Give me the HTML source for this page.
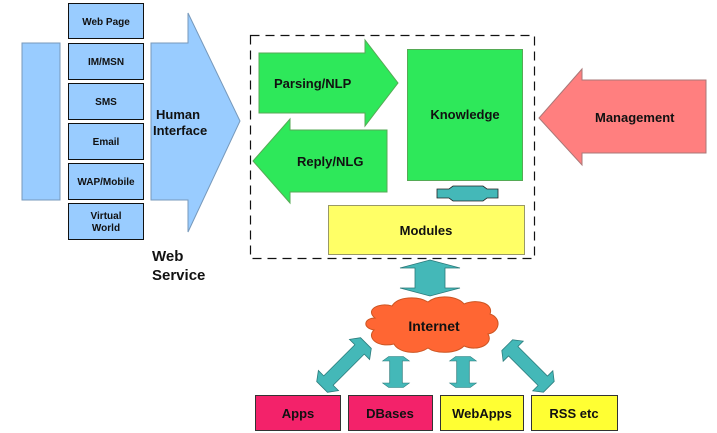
<!DOCTYPE html>
<html><head><meta charset="utf-8"><style>
html,body{margin:0;padding:0;background:#fff;}
svg{display:block;}
text{font-family:"Liberation Sans",Arial,sans-serif;font-weight:bold;fill:#111;}
</style></head><body>
<svg width="717" height="433" viewBox="0 0 717 433" xmlns="http://www.w3.org/2000/svg">
<defs>
<polygon id="dv" points="-8,-31 8,-31 15,-22 7,-22 7,22 15,22 8,31 -8,31 -15,22 -7,22 -7,-22 -15,-22" fill="#44b8b8" stroke="#2a7a7a" stroke-width="0.8"/>
</defs>
<!-- left bar -->
<rect x="22" y="43" width="38" height="157" fill="#99ccff" stroke="#7799bb" stroke-width="1"/>
<!-- big human interface arrow -->
<polygon points="151,43 188,43 188,13 240,121 188,232 188,200 151,200" fill="#99ccff" stroke="#7799bb" stroke-width="1"/>
<text x="156" y="119" font-size="13">Human</text>
<text x="153" y="135" font-size="13">Interface</text>
<!-- column boxes -->
<g fill="#99ccff" stroke="#111" stroke-width="1">
<rect x="68.5" y="3.5" width="75" height="35"/>
<rect x="68.5" y="43.5" width="75" height="36"/>
<rect x="68.5" y="83.5" width="75" height="36"/>
<rect x="68.5" y="123.5" width="75" height="36"/>
<rect x="68.5" y="163.5" width="75" height="36"/>
<rect x="68.5" y="203.5" width="75" height="36"/>
</g>
<g font-size="10" text-anchor="middle">
<text x="106" y="25">Web Page</text>
<text x="106" y="65">IM/MSN</text>
<text x="106" y="105">SMS</text>
<text x="106" y="145">Email</text>
<text x="106" y="185">WAP/Mobile</text>
<text x="106" y="219">Virtual</text>
<text x="106" y="231">World</text>
</g>
<text x="152" y="261" font-size="15">Web</text>
<text x="152" y="280" font-size="15">Service</text>
<!-- dashed box -->
<rect x="250.5" y="35.5" width="284" height="223" fill="none" stroke="#111" stroke-width="1.2" stroke-dasharray="9,6"/>
<!-- parsing -->
<polygon points="259,53 365,53 365,40 398,83 365,126 365,113 259,113" fill="#2ee85a" stroke="#55aa55" stroke-width="1"/>
<text x="274" y="88" font-size="13">Parsing/NLP</text>
<!-- reply -->
<polygon points="387,130 290,130 290,119 253,161 290,203 290,192 387,192" fill="#2ee85a" stroke="#55aa55" stroke-width="1"/>
<text x="297" y="166" font-size="13">Reply/NLG</text>
<!-- knowledge -->
<rect x="407.5" y="49.5" width="115" height="131" fill="#2ee85a" stroke="#55aa55" stroke-width="1"/>
<text x="465" y="119" font-size="13" text-anchor="middle">Knowledge</text>
<!-- small connector -->
<polygon points="453,186 483,186 487,189 498,189 498,198 487,198 483,201 453,201 449,198 437,198 437,189 449,189" fill="#44b8b8" stroke="#222" stroke-width="0.8"/>
<!-- modules -->
<rect x="328.5" y="205.5" width="196" height="49" fill="#ffff66" stroke="#999966" stroke-width="1"/>
<text x="426" y="235" font-size="13" text-anchor="middle">Modules</text>
<!-- management -->
<polygon points="706,80 582,80 582,69 539,118 582,165 582,153 706,153" fill="#ff7f7f" stroke="#aa7777" stroke-width="1"/>
<text x="595" y="122" font-size="13">Management</text>
<!-- big teal double arrow -->
<polygon points="430,260 460,268 445,268 445,288 460,288 430,296 400,288 415,288 415,268 400,268" fill="#44b8b8" stroke="#2a7a7a" stroke-width="0.8"/>
<!-- cloud -->
<path d="M375,318 C365,310 378,302 392,306 C398,296 418,296 428,302 C438,294 458,296 464,304 C478,298 494,304 490,314 C502,318 500,332 488,334 C494,344 478,352 464,346 C456,354 436,354 428,348 C416,356 398,352 394,344 C378,348 366,338 374,330 C362,328 364,318 375,318 Z" fill="#ff6633" stroke="#cc5522" stroke-width="1"/>
<text x="434" y="331" font-size="14" text-anchor="middle">Internet</text>
<!-- small arrows -->
<use href="#dv" transform="translate(396,372) scale(0.9,0.5)"/>
<use href="#dv" transform="translate(463,372) scale(0.9,0.5)"/>
<use href="#dv" transform="translate(344,365) rotate(45) scale(0.95,1)"/>
<use href="#dv" transform="translate(528,366) rotate(-45) scale(0.95,0.95)"/>
<!-- bottom boxes -->
<rect x="255.5" y="395.5" width="85" height="35" fill="#f3226a" stroke="#333" stroke-width="1"/>
<rect x="348.5" y="395.5" width="84" height="35" fill="#f3226a" stroke="#333" stroke-width="1"/>
<rect x="440.5" y="395.5" width="83" height="35" fill="#ffff33" stroke="#333" stroke-width="1"/>
<rect x="531.5" y="395.5" width="86" height="35" fill="#ffff33" stroke="#333" stroke-width="1"/>
<g font-size="13" text-anchor="middle">
<text x="298" y="418">Apps</text>
<text x="390" y="418">DBases</text>
<text x="482" y="418">WebApps</text>
<text x="574" y="418">RSS etc</text>
</g>
</svg>
</body></html>
